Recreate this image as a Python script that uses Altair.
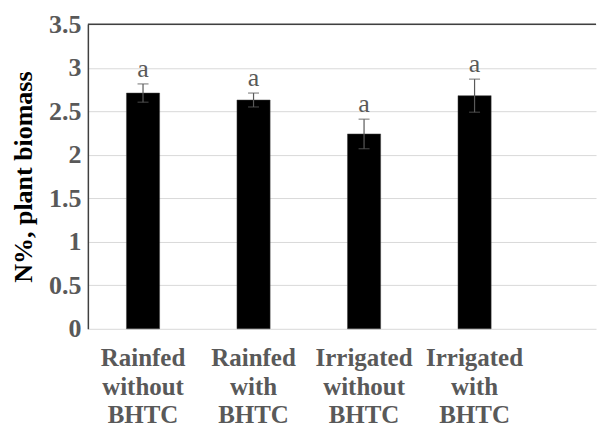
import altair as alt
import pandas as pd

categories = ["Rainfed|without|BHTC", "Rainfed|with|BHTC", "Irrigated|without|BHTC", "Irrigated|with|BHTC"]
means = [2.71, 2.63, 2.24, 2.68]
errors = [0.105, 0.08, 0.17, 0.19]
letters = ["a", "a", "a", "a"]
y_ticks = [0, 0.5, 1, 1.5, 2, 2.5, 3, 3.5]

df = pd.DataFrame({
    "cat": categories,
    "mean": means,
    "lo": [m - e for m, e in zip(means, errors)],
    "hi": [m + e for m, e in zip(means, errors)],
    "letter": letters,
})

FONT = "Times New Roman, Liberation Serif, serif"
GRAY = "#595959"

x_enc = alt.X(
    "cat:N",
    sort=categories,
    scale=alt.Scale(paddingInner=0.7, paddingOuter=0.649, align=0.269),
    axis=alt.Axis(
        title=None,
        labelExpr="split(datum.label, '|')",
        labelAngle=0,
        labelFont=FONT,
        labelFontSize=25,
        labelFontWeight="bold",
        labelColor=GRAY,
        labelLineHeight=28.5,
        labelPadding=17,
        ticks=False,
        domain=False,
        grid=False,
        labelBaseline="top",
    ),
)

y_scale = alt.Scale(domain=[0, 3.5], nice=False)

bars = alt.Chart(df).mark_bar(color="black", stroke="#404040", strokeWidth=0.5).encode(
    x=x_enc,
    y=alt.Y(
        "mean:Q",
        scale=y_scale,
        axis=alt.Axis(
            title="N%, plant biomass",
            values=y_ticks,
            format="~g",
            labelFont=FONT,
            labelFontSize=26,
            labelFontWeight="bold",
            labelColor=GRAY,
            labelPadding=7,
            titleFont=FONT,
            titleFontSize=26,
            titleFontWeight="bold",
            titleColor="black",
            titlePadding=12,
            ticks=False,
            domain=True,
            domainColor="#404040",
            domainWidth=1.5,
            grid=True,
            gridColor="#d9d9d9",
            gridWidth=1,
        ),
    ),
)

rules = alt.Chart(df).mark_rule(color=GRAY, strokeWidth=1.2).encode(
    x=alt.X("cat:N", sort=categories),
    y=alt.Y("lo:Q", scale=y_scale),
    y2="hi:Q",
)

caps_hi = alt.Chart(df).mark_tick(color=GRAY, size=11, thickness=1.2).encode(
    x=alt.X("cat:N", sort=categories),
    y=alt.Y("hi:Q", scale=y_scale),
)
caps_lo = alt.Chart(df).mark_tick(color=GRAY, size=11, thickness=1.2).encode(
    x=alt.X("cat:N", sort=categories),
    y=alt.Y("lo:Q", scale=y_scale),
)

labels = alt.Chart(df).mark_text(
    font=FONT, fontSize=26, color=GRAY, baseline="alphabetic", dy=-7
).encode(
    x=alt.X("cat:N", sort=categories),
    y=alt.Y("hi:Q", scale=y_scale),
    text="letter:N",
)

top_line = alt.Chart(pd.DataFrame({"v": [3.5]})).mark_rule(color="#404040", strokeWidth=1.5).encode(
    y=alt.Y("v:Q", scale=y_scale),
)

chart = alt.layer(bars, rules, caps_hi, caps_lo, labels, top_line).properties(
    width=509,
    height=305,
    padding={"left": 2, "top": 3, "right": 0, "bottom": 0},
).configure_view(stroke=None)

chart.save("out.html", embed_options={"renderer": "svg", "actions": False})
